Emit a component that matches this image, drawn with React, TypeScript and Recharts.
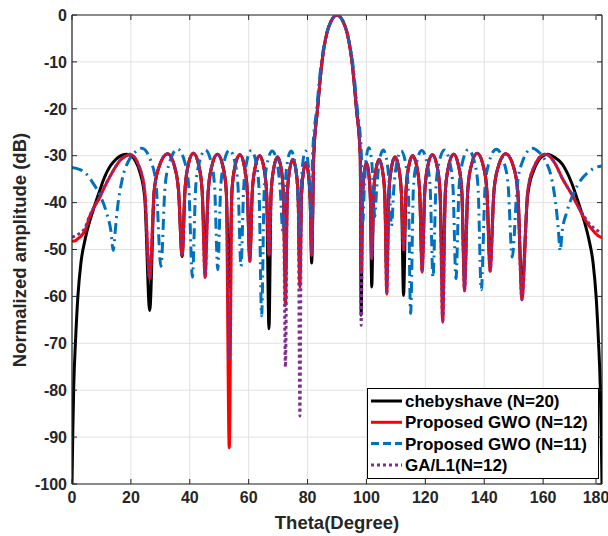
import { LineChart, Line, XAxis, YAxis, CartesianGrid, ReferenceLine } from 'recharts'

// shared theta grid for the 12/20 element patterns (degrees)
const theta12 = [
  0, 0.3, 0.6, 1.2, 2, 3, 4.4, 6, 7.5, 9.5, 10.6, 13, 14, 16.3, 18.5, 19.7, 23.05, 24.7, 26.4,
  27.9, 29.45, 32.5, 34.95, 36.2, 37.4,
  38.35, 39.3, 41.2, 43.2, 44.2, 45.2,
  46.25, 47.3, 49.4, 51.4, 52.4, 53.4,
  54.3, 55.2, 57, 58.7, 59.55, 60.4,
  61.2, 62.05, 63.7, 65.3, 66.1, 66.9,
  67.6, 68.35, 69.8, 71.15, 71.8, 72.5,
  73.1, 73.75, 75, 76.2, 76.8, 77.4,
  77.9, 78.4, 79.4, 80.4, 80.9, 81.4,
  82.1, 83.4, 84.9, 86.5, 88, 90, 92, 93.5, 95.1, 96.6, 97.9, 98.2,
  98.65, 99.1, 100, 100.9, 101.35, 101.8,
  102.4, 103.05, 104.3, 105.6, 106.25, 106.9,
  107.6, 108.3, 109.7, 111.15, 111.9, 112.6,
  113.4, 114.15, 115.7, 117.3, 118.1, 118.9,
  119.8, 120.65, 122.4, 124.15, 125, 125.9,
  126.8, 127.75, 129.6, 131.45, 132.4, 133.3,
  134.4, 135.45, 137.6, 139.8, 140.9, 142,
  143.3, 144.65, 147.3, 150.05, 151.4, 152.8,
  154.75, 156.7, 160.6, 161.5, 164, 166.5, 169.5, 172.5, 174, 175.6, 177, 178, 178.8, 179.4, 179.7, 180,
]

const chebDb = [
  -100, -88, -79, -69.5, -60, -53, -48, -44, -41, -37.3, -35.3, -32.2, -31.4, -30.1, -29.7, -29.9, -33.5, -39, -63,
  -37.6, -32.6, -29.6, -32.6, -37.6, -51.5,
  -37.5, -32.5, -29.5, -32.5, -37.5, -51,
  -37.7, -32.7, -29.7, -32.7, -37.7, -58,
  -37.8, -32.8, -29.8, -32.8, -37.8, -52,
  -38, -33, -30, -33, -38, -66.9,
  -38.3, -33.3, -30.3, -33.3, -38.3, -55,
  -38.8, -33.8, -30.8, -33.8, -38.8, -55,
  -39.5, -34.5, -31.5, -34.5, -39.5, -52.9,
  -30, -20, -10, -4, -1.3, 0, -1.3, -4, -10, -20, -30, -64,
  -39.5, -34.5, -31.5, -34.5, -39.5, -58,
  -38.8, -33.8, -30.8, -33.8, -38.8, -55,
  -38.3, -33.3, -30.3, -33.3, -38.3, -59.8,
  -38, -33, -30, -33, -38, -53,
  -37.8, -32.8, -29.8, -32.8, -37.8, -57,
  -37.7, -32.7, -29.7, -32.7, -37.7, -56,
  -37.5, -32.5, -29.5, -32.5, -37.5, -53,
  -37.6, -32.6, -29.6, -32.6, -37.6, -58,
  -38.5, -33.3, -29.8, -29.7, -30.4, -31.8, -35.5, -41, -44, -48, -53, -60, -69.5, -79, -88, -100,
]

const gwo12Db = [
  -48.3, -48.25, -48.2, -48.1, -47.7, -47.2, -46, -43, -41, -38.8, -37.3, -34.3, -33.2, -31, -30, -29.7, -32.7, -37.7, -56.2,
  -37.6, -32.6, -29.6, -32.6, -37.6, -51.3,
  -37.5, -32.5, -29.5, -32.5, -37.5, -55.9,
  -37.7, -32.7, -29.7, -32.7, -37.7, -92.3,
  -37.8, -32.8, -29.8, -32.8, -37.8, -52.5,
  -38, -33, -30, -33, -38, -51.3,
  -38.3, -33.3, -30.3, -33.3, -38.3, -62,
  -38.8, -33.8, -30.8, -33.8, -38.8, -58,
  -39.5, -34.5, -31.5, -34.5, -39.5, -51.2,
  -30, -20, -10, -4, -1.3, 0, -1.3, -4, -10, -20, -30, -55,
  -39.5, -34.5, -31.5, -34.5, -39.5, -52,
  -38.8, -33.8, -30.8, -33.8, -38.8, -59.5,
  -38.3, -33.3, -30.3, -33.3, -38.3, -50,
  -38, -33, -30, -33, -38, -54.8,
  -37.8, -32.8, -29.8, -32.8, -37.8, -65.5,
  -37.7, -32.7, -29.7, -32.7, -37.7, -58.8,
  -37.5, -32.5, -29.5, -32.5, -37.5, -54.6,
  -37.6, -32.6, -29.6, -32.6, -37.6, -60.7,
  -37.7, -32.7, -29.7, -29.8, -31.6, -34.8, -38, -41.6, -43.4, -44.9, -46, -46.7, -47.1, -47.3, -47.4, -47.4,
]

const gaDb = [
  -47.3, -47.3, -47.25, -47.1, -46.8, -46.4, -45.4, -42.8, -40.9, -38.7, -37.2, -34.3, -33.2, -31, -30, -29.7, -32.7, -37.7, -56.2,
  -37.6, -32.6, -29.6, -32.6, -37.6, -51.3,
  -37.5, -32.5, -29.5, -32.5, -37.5, -55.9,
  -37.7, -32.7, -29.7, -32.7, -37.7, -73.7,
  -37.8, -32.8, -29.8, -32.8, -37.8, -52.5,
  -38, -33, -30, -33, -38, -51.3,
  -38.3, -33.3, -30.3, -33.3, -38.3, -75.1,
  -38.8, -33.8, -30.8, -33.8, -38.8, -85.5,
  -39.5, -34.5, -31.5, -34.5, -39.5, -51.2,
  -30, -20, -10, -4, -1.3, 0, -1.3, -4, -10, -20, -30, -66.2,
  -39.5, -34.5, -31.5, -34.5, -39.5, -52,
  -38.8, -33.8, -30.8, -33.8, -38.8, -59.5,
  -38.3, -33.3, -30.3, -33.3, -38.3, -50,
  -38, -33, -30, -33, -38, -54.8,
  -37.8, -32.8, -29.8, -32.8, -37.8, -65.5,
  -37.7, -32.7, -29.7, -32.7, -37.7, -58.8,
  -37.5, -32.5, -29.5, -32.5, -37.5, -54.6,
  -37.6, -32.6, -29.6, -32.6, -37.6, -60.7,
  -37.7, -32.7, -29.7, -29.8, -31.6, -34.8, -38, -41.4, -43, -44.4, -45.3, -45.8, -46.1, -46.3, -46.3, -46.4,
]

// 11 element pattern has its own lobe positions
const theta11 = [
  0, 2.5, 4.4, 7.2, 9.5, 11.8, 13.2, 14, 14.7, 15.3, 17, 19.3, 21.5, 23.7, 26.95, 28.6, 30.2,
  31.6, 33.05, 35.9, 38.4, 39.65, 40.9,
  42, 43.1, 45.3, 47.4, 48.45, 49.5,
  50.5, 51.5, 53.5, 55.45, 56.4, 57.4,
  58.3, 59.15, 60.9, 62.65, 63.5, 64.4,
  65.3, 66.2, 68, 69.8, 70.7, 71.6,
  72.3, 73, 74.4, 75.85, 76.6, 77.3,
  77.8, 78.3, 79.3, 80.25, 80.7, 81.2,
  81.7, 83.1, 84.7, 86.4, 88, 90, 92, 93.6, 95.3, 96.9, 98.3, 98.8,
  99.3, 99.8, 100.8, 101.8, 102.3, 102.8,
  103.5, 104.25, 105.7, 107.1, 107.8, 108.5,
  109.3, 110.15, 111.8, 113.4, 114.2, 115,
  115.95, 116.9, 118.8, 120.7, 121.65, 122.6,
  123.6, 124.55, 126.5, 128.45, 129.4, 130.4,
  131.45, 132.5, 134.6, 136.8, 137.9, 139,
  140.3, 141.55, 144.1, 146.8, 148.15, 149.5,
  151.2, 152.9, 156.3, 158.5, 160.7, 163, 164.6, 165.2, 165.8, 166.5, 167.9, 170.5, 172.8, 175.6, 177.5, 180,
]

const gwo11Db = [
  -32.5, -32.9, -33.6, -35.9, -38.4, -42.3, -46, -50.2, -46, -42, -35.2, -31, -29.2, -28.4, -31.4, -36.4, -53.6,
  -36.6, -31.6, -28.6, -31.6, -36.6, -55.9,
  -36.8, -31.8, -28.8, -31.8, -36.8, -54.3,
  -36.8, -31.8, -28.8, -31.8, -36.8, -53.6,
  -36.9, -31.9, -28.9, -31.9, -36.9, -64.1,
  -37, -32, -29, -32, -37, -46,
  -37, -32, -29, -32, -37, -47,
  -37, -32, -29, -32, -37, -44,
  -30, -20, -10, -4.3, -1.3, 0, -1.3, -4.3, -10, -20, -30, -44,
  -36.3, -31.3, -28.3, -31.3, -36.3, -43,
  -36.8, -31.8, -28.8, -31.8, -36.8, -45,
  -37, -32, -29, -32, -37, -63.6,
  -36.9, -31.9, -28.9, -31.9, -36.9, -55.9,
  -36.8, -31.8, -28.8, -31.8, -36.8, -56.2,
  -36.7, -31.7, -28.7, -31.7, -36.7, -58.6,
  -36.6, -31.6, -28.6, -31.6, -36.6, -51.6,
  -36.4, -31.4, -28.4, -29.2, -31, -35.2, -42, -46, -50.3, -46, -42.3, -37.8, -35.2, -33.4, -32.6, -32.2,
]

const xTicks = [0, 20, 40, 60, 80, 100, 120, 140, 160, 180]
const yTicks = [-100, -90, -80, -70, -60, -50, -40, -30, -20, -10, 0]

const legendItems = [
  { name: 'chebyshave (N=20)', color: '#000000', dash: undefined },
  { name: 'Proposed GWO (N=12)', color: '#ff0000', dash: undefined },
  { name: 'Proposed GWO (N=11)', color: '#0072bd', dash: '8 4' },
  { name: 'GA/L1(N=12)', color: '#7e2f8e', dash: '3 3' },
]

const W = 608
const H = 536
const TOP = 15
const LEFT = 72
const RIGHT = 602
const BOTTOM = 484
const FONT = '"Liberation Sans", Arial, Helvetica, sans-serif'
const AXIS = '#262626'

const data12 = theta12.map((t, i) => ({ theta: t, cheb: chebDb[i], gwo12: gwo12Db[i], ga: gaDb[i] }))
const data11 = theta11.map((t, i) => ({ theta: t, gwo11: gwo11Db[i] }))

function XTick({ x, y, payload }: any) {
  return (
    <g>
      <line x1={x} x2={x} y1={BOTTOM} y2={BOTTOM - 5} stroke={AXIS} />
      <line x1={x} x2={x} y1={TOP} y2={TOP + 5} stroke={AXIS} />
      <text x={x} y={y} dy="0.71em" textAnchor="middle" fill="#262626" fontSize={16} fontWeight="bold" fontFamily={FONT}>
        {payload.value}
      </text>
    </g>
  )
}

function YTick({ x, y, payload }: any) {
  return (
    <g>
      <line x1={LEFT} x2={LEFT + 5} y1={y} y2={y} stroke={AXIS} />
      <line x1={RIGHT} x2={RIGHT - 5} y1={y} y2={y} stroke={AXIS} />
      <text x={x} y={y} dy="0.36em" textAnchor="end" fill="#262626" fontSize={16} fontWeight="bold" fontFamily={FONT}>
        {payload.value}
      </text>
    </g>
  )
}

function PatternLegend() {
  return (
    <svg width={W} height={H} style={{ position: 'absolute', left: 0, top: 0, pointerEvents: 'none' }}>
      <text x={337} y={529} textAnchor="middle" fontSize={18.5} fontWeight="bold" fontFamily={FONT} fill="#262626">
        Theta(Degree)
      </text>
      <text
        x={0}
        y={0}
        transform="translate(26,250) rotate(-90)"
        textAnchor="middle"
        fontSize={18.5}
        fontWeight="bold"
        fontFamily={FONT}
        fill="#262626"
      >
        Normalized amplitude (dB)
      </text>
      <rect x={367.5} y={388.5} width={231} height={90} fill="#ffffff" stroke="#000000" strokeWidth={1} />
      {legendItems.map((it, i) => {
        const cy = 401 + i * 21.3
        return (
          <g key={it.name}>
            <line x1={371} x2={402} y1={cy} y2={cy} stroke={it.color} strokeWidth={3} strokeDasharray={it.dash} />
            <text x={405} y={cy} dy="0.36em" fontSize={17} fontWeight="bold" fontFamily={FONT} fill="#000000">
              {it.name}
            </text>
          </g>
        )
      })}
    </svg>
  )
}

export default function App() {
  return (
    <div style={{ position: 'absolute', left: 0, top: 0, width: W, height: H, background: '#ffffff' }}>
      <LineChart width={W} height={H} margin={{ top: TOP, right: W - RIGHT, left: 12, bottom: 0 }}>
        <CartesianGrid stroke="#e2e2e2" strokeWidth={1} />
        <XAxis
          dataKey="theta"
          type="number"
          domain={[0, 180]}
          ticks={xTicks}
          allowDataOverflow
          height={H - BOTTOM}
          tickSize={0}
          tickMargin={8}
          axisLine={{ stroke: AXIS, strokeWidth: 1.2 }}
          tick={<XTick />}
        />
        <YAxis
          type="number"
          domain={[-100, 0]}
          ticks={yTicks}
          allowDataOverflow
          width={LEFT - 12}
          tickSize={0}
          tickMargin={5}
          axisLine={{ stroke: AXIS, strokeWidth: 1.2 }}
          tick={<YTick />}
        />
        <ReferenceLine y={0} stroke={AXIS} strokeWidth={1.2} />
        <ReferenceLine x={180} stroke={AXIS} strokeWidth={1.2} />
        <Line data={data12} dataKey="cheb" type="monotone" stroke="#000000" strokeWidth={3} dot={false} isAnimationActive={false} />
        <Line data={data12} dataKey="gwo12" type="monotone" stroke="#ff0000" strokeWidth={3} dot={false} isAnimationActive={false} />
        <Line
          data={data11}
          dataKey="gwo11"
          type="monotone"
          stroke="#0072bd"
          strokeWidth={3}
          strokeDasharray="11 5 2 5"
          dot={false}
          isAnimationActive={false}
        />
        <Line
          data={data12}
          dataKey="ga"
          type="monotone"
          stroke="#7e2f8e"
          strokeWidth={3}
          strokeDasharray="3 3"
          dot={false}
          isAnimationActive={false}
        />
      </LineChart>
      <PatternLegend />
    </div>
  )
}
